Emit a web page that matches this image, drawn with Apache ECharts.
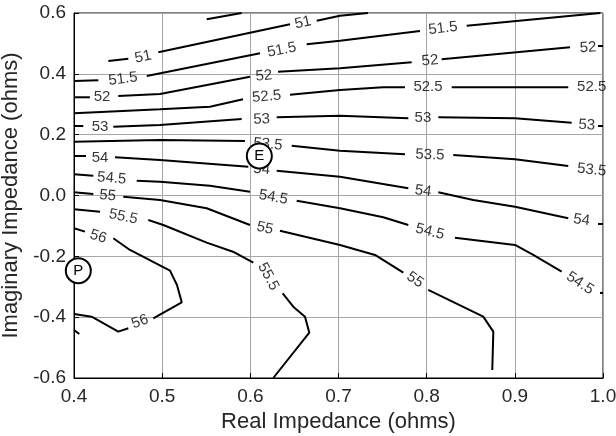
<!DOCTYPE html>
<html>
<head>
<meta charset="utf-8">
<script src="https://cdn.jsdelivr.net/npm/echarts@6/dist/echarts.min.js"></script>
<style>
  html, body { margin: 0; padding: 0; background: #fff; }
  #chart { width: 616px; height: 436px; }
</style>
</head>
<body>
<div id="chart"></div>
<script>
// Contour polylines per level, in (real, imaginary) impedance coordinates.
// Each level is a list of segments; gaps between segments hold the labels.
const contour50_5 = [
  [[0.5505, 0.5793], [0.5902, 0.6]]
];
const contour51 = [
  [[0.4389, 0.4422], [0.4616, 0.4498]],
  [[0.4956, 0.4708], [0.6450, 0.5629]],
  [[0.6753, 0.5747], [0.7017, 0.5911], [0.7334, 0.6]]
];
const contour51_5 = [
  [[0.4, 0.3765], [0.4276, 0.3788]],
  [[0.4825, 0.3929], [0.6110, 0.4675]],
  [[0.6639, 0.4971], [0.7017, 0.5089], [0.7924, 0.5408]],
  [[0.8454, 0.5583], [0.997, 0.6]]
];
const contour52 = [
  [[0.4, 0.3229], [0.418, 0.3229]],
  [[0.4502, 0.3271], [0.4975, 0.3337], [0.5996, 0.3906]],
  [[0.6314, 0.4070], [0.7017, 0.4182], [0.7830, 0.4379]],
  [[0.8170, 0.4478], [0.9626, 0.4872]],
  [[0.9943, 0.4915], [1.0, 0.4915]]
];
const contour52_5 = [
  [[0.4, 0.2703], [0.4975, 0.2834], [0.5542, 0.2920], [0.5917, 0.3163]],
  [[0.6450, 0.3314], [0.7017, 0.3469], [0.7505, 0.3557], [0.7754, 0.3557]],
  [[0.8284, 0.3557], [0.9606, 0.3557]]
];
const contour53 = [
  [[0.4, 0.2285], [0.4105, 0.2285]],
  [[0.4446, 0.2262], [0.4975, 0.2318], [0.5902, 0.2515]],
  [[0.6299, 0.2571], [0.7017, 0.2624], [0.7792, 0.2538]],
  [[0.8132, 0.2571], [0.9002, 0.2538], [0.9645, 0.2394]],
  [[0.9943, 0.2285], [1.0, 0.2285]]
];
const contour53_5 = [
  [[0.4, 0.1769], [0.4975, 0.1825], [0.5939, 0.1792]],
  [[0.6469, 0.1638], [0.7017, 0.1473], [0.7754, 0.1355]],
  [[0.8302, 0.1332], [0.9002, 0.1191], [0.9606, 0.0970]]
];
const contour54 = [
  [[0.4, 0.1299], [0.4136, 0.1299]],
  [[0.4465, 0.1256], [0.4975, 0.1168], [0.5977, 0.0947]],
  [[0.6299, 0.0816], [0.7017, 0.0619], [0.7792, 0.0237]],
  [[0.8132, 0.0106], [0.8529, -0.0147], [0.9002, -0.0368], [0.9606, -0.0749]],
  [[0.9943, -0.0936], [1.0, -0.0936]]
];
const contour54_5 = [
  [[0.4, 0.0698], [0.4219, 0.0651]],
  [[0.4711, 0.0487], [0.4975, 0.0454], [0.5542, 0.0323], [0.5996, 0.0126]],
  [[0.6526, -0.0170], [0.7017, -0.0420], [0.7508, -0.0716], [0.7792, -0.0969]],
  [[0.8321, -0.1387], [0.9002, -0.1627], [0.9209, -0.1955], [0.9531, -0.2504]],
  [[0.9966, -0.3204], [1.0, -0.3204]]
];
const contour55 = [
  [[0.4, 0.0106], [0.4219, 0.0050]],
  [[0.4559, -0.0039], [0.4975, -0.0147], [0.5505, -0.0420], [0.5996, -0.0969]],
  [[0.6336, -0.1157], [0.7017, -0.1627], [0.7414, -0.1955], [0.7735, -0.2537]],
  [[0.8018, -0.3106], [0.8642, -0.3984], [0.8756, -0.4477], [0.8744, -0.5736]]
];
const contour55_5 = [
  [[0.4, -0.0453], [0.4295, -0.0532]],
  [[0.4843, -0.0805], [0.5013, -0.0969], [0.5505, -0.1551], [0.5803, -0.1847], [0.6034, -0.2208]],
  [[0.6367, -0.3214], [0.6487, -0.3655], [0.6620, -0.3984], [0.6669, -0.4510], [0.6260, -0.6]]
];
const contour56 = [
  [[0.4, -0.1078], [0.4125, -0.1189]],
  [[0.4446, -0.1406], [0.4635, -0.1791], [0.5089, -0.2471], [0.5168, -0.2942], [0.5222, -0.3510], [0.4899, -0.4036]],
  [[0.4616, -0.4365], [0.4502, -0.4477], [0.4200, -0.3984], [0.4, -0.3895]],
  [[0.4, -0.4421], [0.4060, -0.4552]]
];

// Inline level labels: [real, imaginary, text]
const contourLabels = [
  [0.4783, 0.4554, '51'], [0.6597, 0.5681, '51'],
  [0.4556, 0.3830, '51.5'], [0.6356, 0.4784, '51.5'], [0.8185, 0.5497, '51.5'],
  [0.4318, 0.3249, '52'], [0.6155, 0.3929, '52'], [0.8038, 0.4432, '52'], [0.9830, 0.4859, '52'],
  [0.6186, 0.3249, '52.5'], [0.8015, 0.3557, '52.5'], [0.9872, 0.3557, '52.5'],
  [0.4295, 0.2262, '53'], [0.6129, 0.2506, '53'], [0.7958, 0.2538, '53'], [0.9815, 0.2318, '53'],
  [0.6200, 0.1684, '53.5'], [0.8038, 0.1332, '53.5'], [0.9872, 0.0839, '53.5'],
  [0.4295, 0.1243, '54'], [0.6129, 0.0862, '54'], [0.7958, 0.0149, '54'], [0.9758, -0.0805, '54'],
  [0.4428, 0.0566, '54.5'], [0.6260, -0.0058, '54.5'], [0.8038, -0.1189, '54.5'], [0.9739, -0.2885, '54.5'],
  [0.4382, -0.0006, '55'], [0.6166, -0.1078, '55'], [0.7868, -0.2777, '55'],
  [0.4559, -0.0696, '55.5'], [0.6204, -0.2668, '55.5'],
  [0.4276, -0.1354, '56'], [0.4749, -0.4148, '56']
];
// Text angle of each label above (degrees, counter-clockwise), following its line
const labelAngles = [
  12, 12,
  7, 11, 7,
  0, 5, 5, 3,
  5, 0, 0,
  0, 2, 0, -3,
  -5, -2, -6,
  0, -4, -8, -8,
  -5, -10, -14, -33,
  -5, -12, -35,
  -12, -62,
  -18, 20
];

// Marked operating points: [real, imaginary, name]
const markers = [
  [0.6102, 0.1299, 'E'],
  [0.4049, -0.2471, 'P']
];

const xTicks = [0.4, 0.5, 0.6, 0.7, 0.8, 0.9, 1.0];
const yTicks = [-0.6, -0.4, -0.2, 0.0, 0.2, 0.4, 0.6];

const FONT = '"Liberation Sans", Arial, Helvetica, sans-serif';

const allContours = [contour50_5, contour51, contour51_5, contour52, contour52_5, contour53,
  contour53_5, contour54, contour54_5, contour55, contour55_5, contour56];

const series = [];
allContours.forEach(level => {
  level.forEach(seg => {
    series.push({
      type: 'line',
      data: seg,
      showSymbol: false,
      symbol: 'none',
      clip: true,
      silent: true,
      lineStyle: { color: '#000', width: 2 },
      z: 3
    });
  });
});

series.push({
  type: 'scatter',
  symbol: 'circle',
  symbolSize: 1,
  silent: true,
  itemStyle: { color: 'rgba(0,0,0,0)' },
  data: contourLabels.map((d, i) => ({
    value: [d[0], d[1]],
    name: d[2],
    label: { rotate: labelAngles[i] }
  })),
  label: {
    show: true,
    position: 'inside',
    formatter: p => p.name,
    color: '#000',
    fontSize: 15,
    fontFamily: FONT
  },
  z: 4
});

series.push({
  type: 'scatter',
  symbol: 'circle',
  symbolSize: 25,
  silent: true,
  itemStyle: { color: '#fff', borderColor: '#000', borderWidth: 2, opacity: 1 },
  data: markers.map(m => ({ value: [m[0], m[1]], name: m[2] })),
  label: {
    show: true,
    position: 'inside',
    formatter: p => p.name,
    color: '#000',
    fontSize: 15,
    fontFamily: FONT
  },
  z: 6
});

const chart = echarts.init(document.getElementById('chart'), null, { renderer: 'canvas' });
chart.setOption({
  animation: false,
  backgroundColor: '#fff',
  grid: {
    left: 74, right: 13, top: 13, bottom: 58,
    outerBoundsMode: 'none',
    containLabel: false,
    show: true, borderColor: '#000', borderWidth: 1, backgroundColor: 'transparent'
  },
  xAxis: {
    type: 'value',
    min: xTicks[0],
    max: xTicks[xTicks.length - 1],
    interval: 0.1,
    name: 'Real Impedance (ohms)',
    nameLocation: 'middle',
    nameGap: 28,
    nameTextStyle: { fontSize: 22, color: '#262626', fontFamily: FONT },
    axisLine: { show: true, onZero: false, lineStyle: { color: '#000' } },
    axisTick: { show: true, inside: true, length: 5, lineStyle: { color: '#000' } },
    axisLabel: {
      fontSize: 19, color: '#262626', fontFamily: FONT, margin: 9,
      formatter: v => v.toFixed(1)
    },
    splitLine: { show: true, lineStyle: { color: '#a6a6a6', width: 1 } }
  },
  yAxis: {
    type: 'value',
    min: yTicks[0],
    max: yTicks[yTicks.length - 1],
    interval: 0.2,
    name: 'Imaginary Impedance (ohms)',
    nameLocation: 'middle',
    nameGap: 47,
    nameTextStyle: { fontSize: 22, color: '#262626', fontFamily: FONT },
    axisLine: { show: true, onZero: false, lineStyle: { color: '#000' } },
    axisTick: { show: true, inside: true, length: 5, lineStyle: { color: '#000' } },
    axisLabel: {
      fontSize: 19, color: '#262626', fontFamily: FONT, margin: 8,
      formatter: v => v.toFixed(1)
    },
    splitLine: { show: true, lineStyle: { color: '#a6a6a6', width: 1 } }
  },
  series: series
});
</script>
</body>
</html>
